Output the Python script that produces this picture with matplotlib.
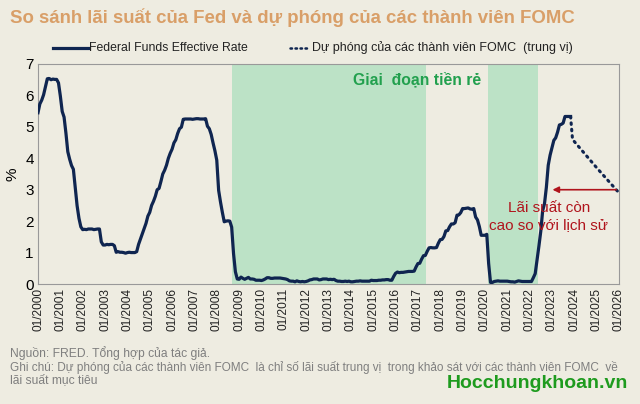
import numpy as np
import matplotlib
matplotlib.use("Agg")
import matplotlib.pyplot as plt

plt.rcParams['font.family'] = ['Liberation Sans', 'DejaVu Sans']

# Lãi suất Fed (trung bình tháng, %), 01/2000 -> 11/2023
ffr_2000s = [
    5.45, 5.73, 5.85, 6.02, 6.27, 6.53, 6.54, 6.50, 6.52, 6.51, 6.51, 6.40,
    5.98, 5.49, 5.31, 4.80, 4.21, 3.97, 3.77, 3.65, 3.07, 2.49, 2.09, 1.82,
    1.73, 1.74, 1.73, 1.75, 1.75, 1.75, 1.73, 1.74, 1.75, 1.75, 1.34, 1.24,
    1.24, 1.26, 1.25, 1.26, 1.26, 1.22, 1.01, 1.03, 1.01, 1.01, 1.00, 0.98,
    1.00, 1.01, 1.00, 1.00, 1.00, 1.03, 1.26, 1.43, 1.61, 1.76, 1.93, 2.16,
    2.28, 2.50, 2.63, 2.79, 3.00, 3.04, 3.26, 3.50, 3.62, 3.78, 4.00, 4.16,
    4.29, 4.49, 4.59, 4.79, 4.94, 4.99, 5.24, 5.25, 5.25, 5.25, 5.25, 5.24,
    5.25, 5.26, 5.26, 5.25, 5.25, 5.25, 5.26, 5.02, 4.94, 4.76, 4.49, 4.24,
    3.94, 2.98, 2.61, 2.28, 1.98, 2.00, 2.01, 2.00, 1.81, 0.97, 0.39, 0.16,
    0.15, 0.22, 0.18, 0.15, 0.18, 0.21, 0.16, 0.16, 0.15, 0.12, 0.12, 0.12,
]
ffr_2010s = [
    0.11, 0.13, 0.16, 0.20, 0.20, 0.18, 0.18, 0.19, 0.19, 0.19, 0.19, 0.18,
    0.17, 0.16, 0.14, 0.10, 0.09, 0.09, 0.07, 0.10, 0.08, 0.07, 0.08, 0.07,
    0.08, 0.10, 0.13, 0.14, 0.16, 0.16, 0.16, 0.13, 0.14, 0.16, 0.16, 0.16,
    0.14, 0.15, 0.14, 0.15, 0.11, 0.09, 0.09, 0.08, 0.08, 0.09, 0.08, 0.09,
    0.07, 0.07, 0.08, 0.09, 0.09, 0.10, 0.09, 0.09, 0.09, 0.09, 0.09, 0.12,
    0.11, 0.11, 0.11, 0.12, 0.12, 0.13, 0.13, 0.14, 0.14, 0.12, 0.12, 0.24,
    0.34, 0.38, 0.36, 0.37, 0.37, 0.38, 0.39, 0.40, 0.40, 0.40, 0.41, 0.54,
    0.65, 0.66, 0.79, 0.90, 0.91, 1.04, 1.15, 1.16, 1.15, 1.15, 1.16, 1.30,
    1.41, 1.42, 1.51, 1.69, 1.70, 1.82, 1.91, 1.91, 1.95, 2.19, 2.20, 2.27,
    2.40, 2.40, 2.41, 2.42, 2.39, 2.38, 2.40, 2.13, 2.04, 1.83, 1.55, 1.55,
]
ffr_2020s = [
    1.55, 1.58, 0.65, 0.05, 0.05, 0.08, 0.09, 0.10, 0.09, 0.09, 0.09, 0.09,
    0.09, 0.08, 0.07, 0.07, 0.06, 0.08, 0.10, 0.09, 0.08, 0.08, 0.08, 0.08,
    0.08, 0.08, 0.20, 0.33, 0.77, 1.21, 1.68, 2.33, 2.56, 3.08, 3.78, 4.10,
    4.33, 4.57, 4.65, 4.83, 5.06, 5.08, 5.12, 5.33, 5.33, 5.33, 5.33,
]

# Dự phóng FOMC (trung vị)
proj_t = [2023 + 10 / 12, 2023.92, 2025.0, 2026.0]
proj_y = [5.33, 4.6, 3.7, 2.9]

# giai đoạn tiền rẻ
cheap_start = [2008.7, 2020.13]
cheap_end = [2017.35, 2022.36]

years = list(range(2000, 2027))
year_labels = [f"01/{y}" for y in years]

ffr = ffr_2000s + ffr_2010s + ffr_2020s
t = 2000 + np.arange(len(ffr)) / 12

bg = '#EEECE1'
navy = '#0F2550'
grey_txt = '#7F7F7F'

fig = plt.figure(figsize=(6.4, 4.04), dpi=100, facecolor=bg)
ax = fig.add_axes([38 / 640, 1 - 284 / 404, 581 / 640, 220 / 404])
ax.set_facecolor(bg)

for s, e in zip(cheap_start, cheap_end):
    ax.axvspan(s, e, color='#BCE2C6', lw=0, zorder=0)

ax.plot(t, ffr, color=navy, lw=2.3, solid_joinstyle='round', zorder=3)
ax.plot(proj_t, proj_y, color=navy, lw=2.2, ls=(0, (0.5, 1.6)),
        dash_capstyle='round', zorder=3)

ax.set_xlim(2000, 2026)
ax.set_ylim(0, 7)
ax.set_xticks(years)
ax.set_xticklabels(year_labels, rotation=90, fontsize=8.6, color='#222222')
ax.set_yticks(range(0, 8))
ax.tick_params(axis='both', length=0, pad=3)
ax.tick_params(axis='y', labelsize=11)
ax.set_ylabel('%', fontsize=11, labelpad=4)
for sp in ax.spines.values():
    sp.set_color('#999999')
    sp.set_linewidth(0.8)

ax.text(16.96 + 2000, 6.49, 'Giai  đoạn tiền rẻ', color='#22A04E', fontsize=11.3,
        fontweight='bold', ha='center', va='center')

# mũi tên + chú thích
ax.annotate('', xy=(2022.9, 3.0), xytext=(2026.0, 3.0),
            arrowprops=dict(arrowstyle='-|>', color='#B0141C', lw=1.2,
                            mutation_scale=9))
ax.text(2022.86, 2.15, 'Lãi suất còn\ncao so với lịch sử', color='#B0141C',
        fontsize=11, ha='center', va='center', linespacing=1.2)

fig.text(10 / 640, 1 - 18 / 404,
         'So sánh lãi suất của Fed và dự phóng của các thành viên FOMC',
         color='#D99F68', fontsize=13.4, fontweight='bold', va='center')

# chú giải
fig.lines.append(plt.Line2D([53 / 640, 88 / 640], [1 - 48 / 404] * 2,
                            color=navy, lw=2.3, transform=fig.transFigure))
fig.text(89 / 640, 1 - 48 / 404, 'Federal Funds Effective Rate',
         fontsize=8.8, va='center', color='#222222')
fig.lines.append(plt.Line2D([290 / 640, 308 / 640], [1 - 48 / 404] * 2,
                            color=navy, lw=1.8, ls=(0, (0.6, 1.4)),
                            dash_capstyle='round', transform=fig.transFigure))
fig.text(312 / 640, 1 - 48 / 404, 'Dự phóng của các thành viên FOMC  (trung vị)',
         fontsize=9.0, va='center', color='#222222')

fig.text(10 / 640, 1 - 353 / 404, 'Nguồn: FRED. Tổng hợp của tác giả.',
         fontsize=8.7, color=grey_txt, va='center')
fig.text(10 / 640, 1 - 367 / 404,
         'Ghi chú: Dự phóng của các thành viên FOMC  là chỉ số lãi suất trung vị  trong khảo sát với các thành viên FOMC  về',
         fontsize=8.5, color=grey_txt, va='center')
fig.text(10 / 640, 1 - 380 / 404, 'lãi suất mục tiêu',
         fontsize=8.7, color=grey_txt, va='center')
fig.text(628 / 640, 1 - 383 / 404, 'Hocchungkhoan.vn', fontsize=14,
         fontweight='bold', color='#1E9B1E', ha='right', va='center')

fig.savefig('out.png', dpi=100, facecolor=bg)
